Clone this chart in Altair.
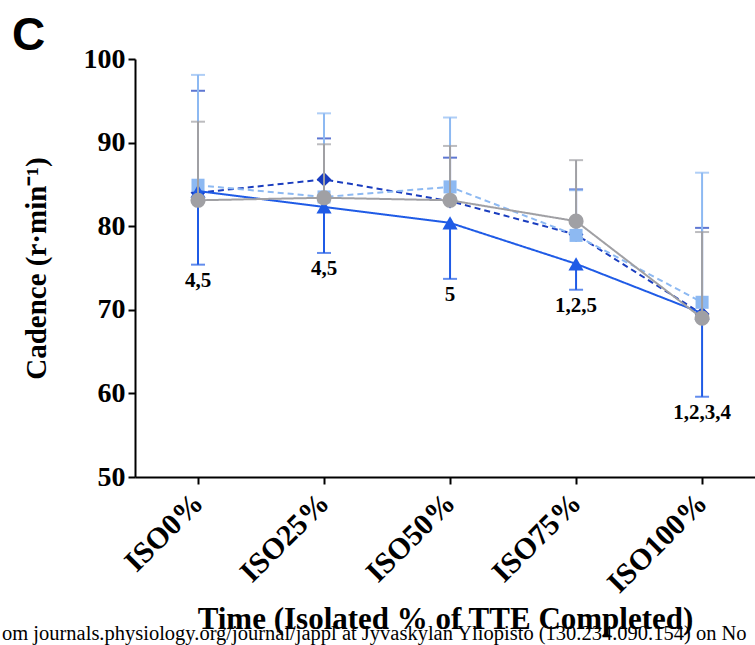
import altair as alt
import pandas as pd

categories = ["ISO0%", "ISO25%", "ISO50%", "ISO75%", "ISO100%"]
positions = [0, 1, 2, 3, 4]

series_names = ["Dark blue (diamond)", "Light blue (square)", "Blue (triangle)", "Grey (circle)"]
series_colors = ["#1A3DBF", "#8DB9F2", "#1F5BE6", "#A0A0A4"]
series_shapes = ["diamond", "square", "triangle-up", "circle"]
series_dash = [[6, 4], [6, 4], [1, 0], [1, 0]]
series_sizes = [220, 170, 230, 230]

dia_mean = [84.0, 85.6, 83.0, 79.0, 69.5]
dia_err = [96.2, 90.5, 88.2, 84.4, 79.8]
sq_mean = [84.9, 83.5, 84.7, 78.9, 70.9]
sq_err = [98.1, 93.5, 93.0, 84.3, 86.4]
tri_mean = [84.2, 82.3, 80.4, 75.5, 69.6]
tri_err = [75.4, 76.8, 73.7, 72.4, 59.6]
circ_mean = [83.1, 83.4, 83.1, 80.6, 69.0]
circ_err = [92.5, 89.8, 89.6, 87.9, 79.3]

sig_labels = ["4,5", "4,5", "5", "1,2,5", "1,2,3,4"]

means = [dia_mean, sq_mean, tri_mean, circ_mean]
errs = [dia_err, sq_err, tri_err, circ_err]

label_expr = "[" + ",".join("'" + c + "'" for c in categories) + "][datum.value]"

FONT = "Liberation Serif"

xscale = alt.Scale(domain=[-0.5, 4.42], nice=False, zero=False)
yscale = alt.Scale(domain=[50, 100], nice=False, zero=False)

x_axis = alt.Axis(
    values=positions, labelExpr=label_expr, labelAngle=-45, labelFontSize=30,
    labelBaseline="middle", labelAlign="right", labelPadding=14,
    title="Time (Isolated % of TTE Completed)", titleFontSize=31, titlePadding=6, zindex=1,
)
y_axis = alt.Axis(values=[50, 60, 70, 80, 90, 100], title="Cadence (r·min⁻¹)", titlePadding=32)

X = alt.X("x:Q", scale=xscale, axis=x_axis)


def Y(field):
    return alt.Y(field, scale=yscale, axis=y_axis)


layers = []
for i, name in enumerate(series_names):
    df = pd.DataFrame({"x": positions, "mean": means[i], "err": errs[i], "series": name})
    base = alt.Chart(df)
    c = series_colors[i]
    stem = base.mark_rule(color=c, strokeWidth=2).encode(x=X, y=Y("mean:Q"), y2="err:Q")
    cap = base.mark_tick(color=c, orient="horizontal", size=14, thickness=2).encode(
        x=X, y=Y("err:Q")
    )
    line = base.mark_line(color=c, strokeWidth=2, strokeDash=series_dash[i]).encode(
        x=X, y=Y("mean:Q")
    )
    pts = base.mark_point(
        color=c, filled=True, opacity=1, shape=series_shapes[i], size=series_sizes[i]
    ).encode(x=X, y=Y("mean:Q"))
    layers += [stem, cap, line, pts]

ann_df = pd.DataFrame({"x": positions, "err": tri_err, "label": sig_labels})
ann = alt.Chart(ann_df).mark_text(
    font=FONT, fontWeight="bold", fontSize=21, color="black", baseline="middle", dy=16
).encode(x=X, y=Y("err:Q"), text="label:N")

letter = alt.Chart(pd.DataFrame({"t": ["C"]})).mark_text(
    font="Liberation Sans", fontWeight="bold", fontSize=46, color="black",
    align="left", baseline="alphabetic",
).encode(x=alt.value(-123), y=alt.value(-9), text="t:N")

wm = alt.Chart(pd.DataFrame({"t": ["om journals.physiology.org/journal/jappl at Jyvaskylan Yliopisto (130.234.090.154) on No"]})).mark_text(
    font=FONT, fontSize=20.5, color="black", align="left", baseline="alphabetic",
).encode(x=alt.value(-133), y=alt.value(581), text="t:N")

chart = alt.layer(*layers, ann, wm, letter).properties(
    width=620, height=418,
    autosize=alt.AutoSizeParams(type="none"),
    padding={"left": 135, "top": 59, "right": 0, "bottom": 168},
).configure_view(stroke=None).configure_axis(
    grid=False, domainColor="black", domainWidth=2, tickColor="black", tickWidth=2,
    tickSize=7, labelFont=FONT, labelFontWeight="bold", labelFontSize=28,
    labelColor="black", labelPadding=3, titleFont=FONT, titleFontWeight="bold",
    titleFontSize=29, titleColor="black",
)

chart.save("out.html", embed_options={"renderer": "svg", "actions": False})
